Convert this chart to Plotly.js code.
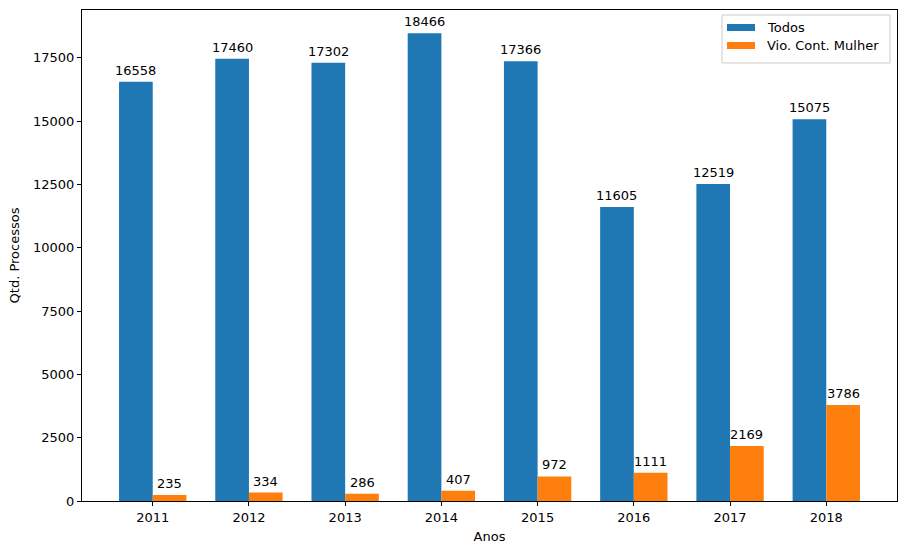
<!DOCTYPE html>
<html>
<head>
<meta charset="utf-8">
<script src="https://cdn.plot.ly/plotly-3.0.1.min.js"></script>
<style>html,body{margin:0;padding:0;background:#fff;}#chart{width:907px;height:554px;}</style>
</head>
<body>
<div id="chart"></div>
<script>
const years = ['2011','2012','2013','2014','2015','2016','2017','2018'];
const todos = [16558, 17460, 17302, 18466, 17366, 11605, 12519, 15075];
const violencia = [235, 334, 286, 407, 972, 1111, 2169, 3786];
const seriesNames = ['Todos', 'Vio. Cont. Mulher'];
const colors = ['#1f77b4', '#ff7f0e'];

const idx = years.map((_, i) => i);
const w = 0.35;
const font = {family: 'DejaVu Sans, sans-serif', size: 13, color: '#000'};

const traces = [
  {type: 'bar', x: idx, y: todos, name: seriesNames[0], width: w, offset: -w,
   marker: {color: colors[0], line: {width: 0}}, showlegend: false},
  {type: 'bar', x: idx, y: violencia, name: seriesNames[1], width: w, offset: 0,
   marker: {color: colors[1], line: {width: 0}}, showlegend: false}
];

const annotations = [];
todos.forEach((v, i) => annotations.push({x: i - w/2, y: v, text: String(v), showarrow: false,
  yanchor: 'bottom', yshift: 2, font: font}));
violencia.forEach((v, i) => annotations.push({x: i + w/2, y: v, text: String(v), showarrow: false,
  yanchor: 'bottom', yshift: 2, font: font}));

// custom legend (matplotlib style)
const shapes = [
  {type: 'rect', xref: 'paper', yref: 'paper', x0: 0.7853, x1: 0.9914, y0: 0.8921, y1: 0.9898,
   line: {color: '#cccccc', width: 1}, fillcolor: 'rgba(255,255,255,0.8)'},
  {type: 'rect', xref: 'paper', yref: 'paper', x0: 0.7914, x1: 0.8258, y0: 0.9572, y1: 0.9715,
   line: {width: 0}, fillcolor: colors[0]},
  {type: 'rect', xref: 'paper', yref: 'paper', x0: 0.7914, x1: 0.8258, y0: 0.9206, y1: 0.9348,
   line: {width: 0}, fillcolor: colors[1]}
];
annotations.push({xref: 'paper', yref: 'paper', x: 0.8380, y: 0.9643, xanchor: 'left', yanchor: 'middle',
  text: seriesNames[0], showarrow: false, font: font});
annotations.push({xref: 'paper', yref: 'paper', x: 0.8380, y: 0.9277, xanchor: 'left', yanchor: 'middle',
  text: seriesNames[1], showarrow: false, font: font});

const layout = {
  width: 907, height: 554,
  margin: {l: 82, r: 10, t: 10, b: 53},
  paper_bgcolor: '#fff', plot_bgcolor: '#fff',
  font: font,
  showlegend: false,
  barmode: 'overlay',
  xaxis: {
    range: [-0.735, 7.735], tickvals: idx, ticktext: years,
    showline: true, mirror: true, linecolor: '#000', linewidth: 1,
    ticks: 'outside', ticklen: 4, tickcolor: '#000', showgrid: false, zeroline: false,
    title: {text: 'Anos', font: font, standoff: 8}
  },
  yaxis: {
    range: [0, 19389], tickvals: [0, 2500, 5000, 7500, 10000, 12500, 15000, 17500],
    ticktext: ['0','2500','5000','7500','10000','12500','15000','17500'],
    showline: true, mirror: true, linecolor: '#000', linewidth: 1,
    ticks: 'outside', ticklen: 4, tickcolor: '#000', showgrid: false, zeroline: false,
    title: {text: 'Qtd. Processos', font: font, standoff: 10}
  },
  shapes: shapes,
  annotations: annotations
};

Plotly.newPlot('chart', traces, layout, {displayModeBar: false, staticPlot: true});
</script>
</body>
</html>
